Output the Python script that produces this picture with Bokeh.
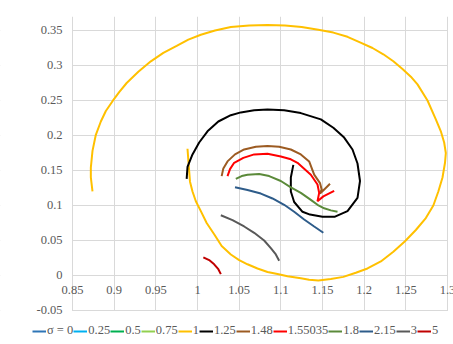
from bokeh.plotting import figure
from bokeh.models import Legend, LegendItem, FixedTicker, Range1d, BoxAnnotation
from bokeh.core.properties import value
from bokeh.embed import file_html
from bokeh.resources import INLINE

# ---- data ----
x_ticks = [0.85, 0.9, 0.95, 1.0, 1.05, 1.1, 1.15, 1.2, 1.25, 1.3]
x_tick_labels = ["0.85", "0.9", "0.95", "1", "1.05", "1.1", "1.15", "1.2", "1.25", "1.3"]
y_ticks = [-0.05, 0.0, 0.05, 0.1, 0.15, 0.2, 0.25, 0.3, 0.35]
y_tick_labels = ["-0.05", "0", "0.05", "0.1", "0.15", "0.2", "0.25", "0.3", "0.35"]

sigma_labels = ["σ = 0", "0.25", "0.5", "0.75", "1", "1.25", "1.48", "1.55035", "1.8", "2.15", "3", "5"]
sigma_colors = ["#2E75B6", "#00B0F0", "#00B050", "#92D050", "#FFC000", "#000000",
                "#9C5B22", "#FF0000", "#5B8A3A", "#2E5C8A", "#595959", "#C00000"]

s0_x, s0_y = [], []
s025_x, s025_y = [], []
s05_x, s05_y = [], []
s075_x, s075_y = [], []

s1_x = [0.874, 0.872, 0.872, 0.874, 0.878, 0.884, 0.890, 0.898, 0.906, 0.915, 0.929, 0.944,
        0.959, 0.975, 0.989, 1.004, 1.021, 1.040, 1.062, 1.084, 1.105, 1.125, 1.145, 1.163,
        1.180, 1.195, 1.210, 1.223, 1.235, 1.246, 1.256, 1.264, 1.276, 1.286, 1.292, 1.296,
        1.298, 1.297, 1.294, 1.289, 1.283, 1.274, 1.262, 1.249, 1.235, 1.220, 1.204, 1.190,
        1.175, 1.160, 1.145, 1.134, 1.124, 1.108, 1.096, 1.084, 1.072, 1.060, 1.050, 1.040,
        1.029, 1.020, 1.011, 1.004, 0.998, 0.994, 0.991, 0.990, 0.988]
s1_y = [0.120, 0.140, 0.154, 0.178, 0.201, 0.220, 0.235, 0.249, 0.262, 0.275, 0.291, 0.306,
        0.318, 0.328, 0.337, 0.344, 0.350, 0.355, 0.357, 0.358, 0.357, 0.355, 0.351, 0.347,
        0.341, 0.333, 0.325, 0.316, 0.306, 0.295, 0.284, 0.273, 0.250, 0.223, 0.206, 0.190,
        0.175, 0.161, 0.140, 0.120, 0.100, 0.082, 0.065, 0.049, 0.034, 0.020, 0.010, 0.004,
        -0.002, -0.005, -0.007, -0.006, -0.004, -0.001, 0.002, 0.005, 0.010, 0.016, 0.022, 0.030,
        0.042, 0.059, 0.075, 0.092, 0.106, 0.120, 0.134, 0.149, 0.181]

s125_x = [0.987, 0.988, 0.994, 1.002, 1.012, 1.025, 1.040, 1.052, 1.068, 1.084, 1.104, 1.124,
          1.148, 1.163, 1.176, 1.186, 1.192, 1.195, 1.192, 1.180, 1.165, 1.150, 1.135, 1.126,
          1.116, 1.112, 1.112, 1.115]
s125_y = [0.138, 0.155, 0.173, 0.190, 0.206, 0.220, 0.229, 0.233, 0.236, 0.237, 0.236, 0.232,
          0.223, 0.211, 0.197, 0.180, 0.160, 0.135, 0.111, 0.092, 0.084, 0.084, 0.087, 0.091,
          0.105, 0.120, 0.140, 0.158]

s148_x = [1.029, 1.031, 1.036, 1.045, 1.056, 1.070, 1.084, 1.098, 1.112, 1.124, 1.134, 1.140,
          1.147, 1.149, 1.147, 1.153, 1.159]
s148_y = [0.142, 0.153, 0.163, 0.173, 0.180, 0.184, 0.185, 0.184, 0.180, 0.173, 0.163, 0.144,
          0.132, 0.123, 0.117, 0.124, 0.131]

s155_x = [1.036, 1.039, 1.044, 1.055, 1.068, 1.084, 1.100, 1.112, 1.120, 1.136, 1.144, 1.146,
          1.144, 1.151, 1.164]
s155_y = [0.142, 0.152, 0.161, 0.168, 0.173, 0.174, 0.170, 0.166, 0.161, 0.144, 0.130, 0.118,
          0.106, 0.113, 0.121]

s18_x = [1.046, 1.053, 1.060, 1.074, 1.086, 1.100, 1.112, 1.124, 1.136, 1.144, 1.152, 1.160, 1.168]
s18_y = [0.138, 0.142, 0.144, 0.145, 0.142, 0.135, 0.126, 0.118, 0.108, 0.101, 0.096, 0.093, 0.091]

s215_x = [1.045, 1.060, 1.076, 1.090, 1.104, 1.116, 1.128, 1.140, 1.151]
s215_y = [0.126, 0.122, 0.117, 0.110, 0.101, 0.091, 0.080, 0.070, 0.061]

s3_x = [1.028, 1.042, 1.056, 1.068, 1.080, 1.088, 1.094, 1.098]
s3_y = [0.086, 0.079, 0.070, 0.061, 0.050, 0.039, 0.030, 0.021]

s5_x = [1.007, 1.014, 1.020, 1.025, 1.028]
s5_y = [0.026, 0.022, 0.016, 0.009, 0.002]

series_x = [s0_x, s025_x, s05_x, s075_x, s1_x, s125_x, s148_x, s155_x, s18_x, s215_x, s3_x, s5_x]
series_y = [s0_y, s025_y, s05_y, s075_y, s1_y, s125_y, s148_y, s155_y, s18_y, s215_y, s3_y, s5_y]

# ---- figure ----
FONT = "Liberation Serif"
TXT = "#595959"
GRID = "#D9D9D9"
FS = "12.5px"

X_LO, X_HI = x_ticks[0], x_ticks[-1]
Y_LO = y_ticks[0]

# the frame covers the whole page below the top margin; the plot area
# (x_ticks[0]..x_ticks[-1], y_ticks[0]..top) sits inside it, the rest is masked
p = figure(width=453, height=344, output_backend="svg", toolbar_location=None,
           x_range=Range1d(0.7636, 1.3072), y_range=Range1d(-0.0986, 0.37),
           x_axis_location=None, y_axis_location=None,
           min_border_left=0, min_border_right=0, min_border_top=16, min_border_bottom=0)
p.outline_line_color = None
p.background_fill_color = "white"
p.border_fill_color = "white"

p.xgrid.ticker = FixedTicker(ticks=x_ticks)
p.ygrid.ticker = FixedTicker(ticks=y_ticks)
p.xgrid.grid_line_color = GRID
p.ygrid.grid_line_color = GRID
p.xgrid.grid_line_width = 1
p.ygrid.grid_line_width = 1

mask = dict(fill_color="white", fill_alpha=1, line_color=None, level="underlay")
p.add_layout(BoxAnnotation(right=X_LO - 0.0006, **mask))
p.add_layout(BoxAnnotation(left=X_HI + 0.0006, **mask))
p.add_layout(BoxAnnotation(top=Y_LO - 0.0007, **mask))

# y tick labels left of the plot area
p.text(x=[X_LO] * len(y_ticks), y=y_ticks, text=y_tick_labels, text_align="right",
       text_baseline="middle", x_offset=-10, text_font=value(FONT),
       text_font_size=FS, text_color=TXT)
# x tick labels next to the y = 0 line (the axis crosses at 0)
p.text(x=x_ticks, y=[0.0] * len(x_ticks), text=x_tick_labels, text_align="center",
       text_baseline="top", y_offset=11, text_font=value(FONT),
       text_font_size=FS, text_color=TXT)

items = []
for lab, col, xs, ys in zip(sigma_labels, sigma_colors, series_x, series_y):
    r = p.line(xs, ys, line_color=col, line_width=2)
    items.append(LegendItem(label=lab, renderers=[r]))

# swatch renderers for the series that have no points in view
# (a renderer without data draws no legend swatch)
for i in range(4):
    r = p.line(x=[0, 0], y=[1, 1], line_color=sigma_colors[i], line_width=2)
    items[i] = LegendItem(label=sigma_labels[i], renderers=[r])

legend = Legend(items=items, orientation="horizontal", location=(32, 6),
                glyph_width=14, glyph_height=10, label_standoff=1, spacing=0,
                padding=0, margin=0, border_line_color=None, background_fill_alpha=0,
                label_text_font=FONT, label_text_font_size=FS, label_text_color=TXT,
                label_height=14, label_width=0)
p.add_layout(legend, "center")

html = file_html(p, INLINE)
open("out.html", "w").write(html)
